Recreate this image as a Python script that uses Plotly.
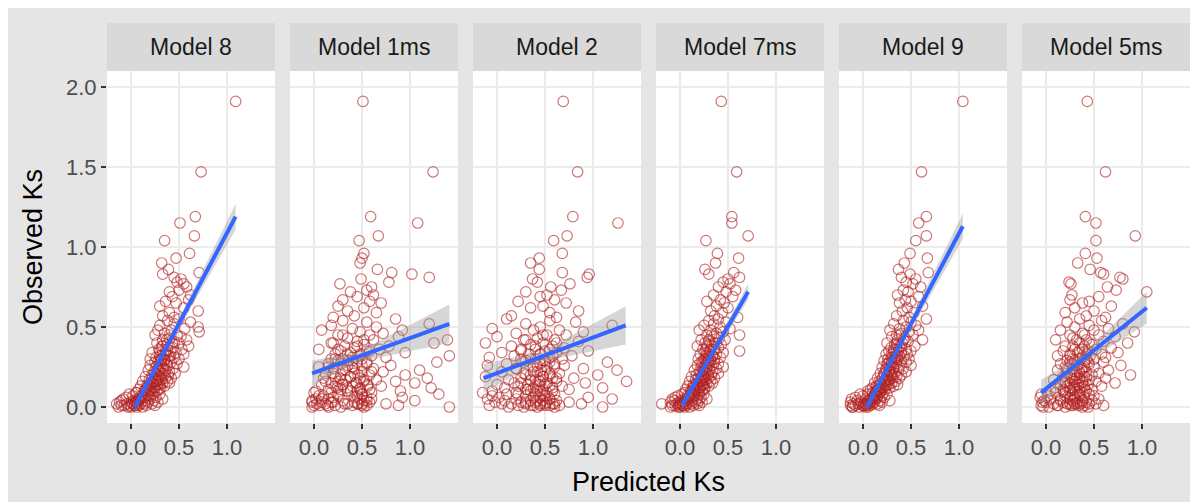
import plotly.graph_objects as go

# the page body keeps an 8 px margin, so the figure is 8 px smaller than the window
OFF = 8
W, H = 1198 - OFF, 502 - OFF

models = ["Model 8", "Model 1ms", "Model 2", "Model 7ms", "Model 9", "Model 5ms"]

observed = [
    1.91, 1.47, 1.19, 1.15, 1.07, 1.04, 0.96, 0.93, 0.90, 0.86,
    0.84, 0.83, 0.81, 0.80, 0.78, 0.77, 0.75, 0.73, 0.72, 0.70,
    0.69, 0.67, 0.66, 0.65, 0.63, 0.62, 0.60, 0.59, 0.57, 0.56,
    0.55, 0.54, 0.53, 0.52, 0.51, 0.50, 0.49, 0.48, 0.48, 0.47,
    0.46, 0.45, 0.45, 0.44, 0.43, 0.42, 0.42, 0.41, 0.40, 0.40,
    0.39, 0.38, 0.38, 0.37, 0.36, 0.36, 0.35, 0.35, 0.34, 0.34,
    0.33, 0.33, 0.32, 0.32, 0.31, 0.31, 0.30, 0.30, 0.30, 0.29,
    0.29, 0.28, 0.28, 0.27, 0.27, 0.26, 0.26, 0.25, 0.25, 0.24,
    0.24, 0.23, 0.23, 0.22, 0.22, 0.21, 0.21, 0.20, 0.20, 0.20,
    0.19, 0.19, 0.18, 0.18, 0.18, 0.17, 0.17, 0.16, 0.16, 0.16,
    0.15, 0.15, 0.15, 0.14, 0.14, 0.14, 0.13, 0.13, 0.13, 0.12,
    0.12, 0.12, 0.11, 0.11, 0.11, 0.10, 0.10, 0.10, 0.10, 0.09,
    0.09, 0.08, 0.08, 0.08, 0.07, 0.07, 0.07, 0.06, 0.06, 0.06,
    0.05, 0.05, 0.05, 0.05, 0.04, 0.04, 0.04, 0.04, 0.03, 0.03,
    0.03, 0.03, 0.03, 0.02, 0.02, 0.02, 0.02, 0.02, 0.02, 0.01,
    0.01, 0.01, 0.01, 0.01, 0.01, 0.00, 0.00, 0.00, 0.00, 0.00,
    0.45, 0.42, 0.40, 0.38, 0.36, 0.35, 0.33, 0.32, 0.30, 0.29,
    0.28, 0.27, 0.26, 0.25, 0.24, 0.23, 0.22, 0.21, 0.20, 0.19,
    0.18, 0.17, 0.16, 0.15, 0.14, 0.13, 0.12, 0.11, 0.10, 0.09,
    0.08, 0.07, 0.06, 0.05, 0.04, 0.03, 0.02, 0.02, 0.01, 0.01,
]

pred_model_8 = [
    1.09, 0.73, 0.67, 0.51, 0.66, 0.35, 0.61, 0.47, 0.32, 0.39,
    0.71, 0.33, 0.45, 0.52, 0.48, 0.55, 0.58, 0.50, 0.40, 0.62,
    0.43, 0.60, 0.36, 0.47, 0.30, 0.55, 0.70, 0.40, 0.33, 0.45,
    0.50, 0.38, 0.62, 0.45, 0.30, 0.70, 0.56, 0.42, 0.28, 0.71,
    0.35, 0.48, 0.25, 0.52, 0.40, 0.33, 0.58, 0.45, 0.27, 0.50,
    0.38, 0.60, 0.32, 0.44, 0.29, 0.53, 0.36, 0.41, 0.22, 0.47,
    0.34, 0.55, 0.30, 0.39, 0.26, 0.45, 0.35, 0.20, 0.50, 0.31,
    0.35, 0.42, 0.25, 0.48, 0.30, 0.38, 0.20, 0.55, 0.33, 0.28,
    0.44, 0.36, 0.18, 0.40, 0.30, 0.25, 0.46, 0.34, 0.22, 0.39,
    0.29, 0.15, 0.36, 0.42, 0.26, 0.32, 0.19, 0.38, 0.27, 0.12,
    0.33, 0.23, 0.40, 0.30, 0.17, 0.28, 0.35, 0.21, 0.10, 0.31,
    0.25, 0.16, 0.29, 0.20, 0.08, 0.24, 0.14, 0.27, 0.18, 0.06,
    0.05, 0.22, -0.02, 0.30, 0.10, 0.18, 0.02, 0.26, 0.12, -0.05,
    0.20, 0.08, 0.33, -0.08, 0.15, 0.03, 0.24, -0.10, 0.06, 0.18,
    0.00, 0.28, -0.12, 0.10, -0.04, 0.14, 0.22, -0.15, 0.02, 0.08,
    -0.07, 0.16, 0.04, -0.10, 0.25, 0.00, -0.13, 0.06, -0.03, 0.12,
    0.40, 0.37, 0.43, 0.33, 0.38, 0.30, 0.36, 0.41, 0.32, 0.35,
    0.28, 0.37, 0.31, 0.26, 0.34, 0.29, 0.24, 0.32, 0.27, 0.30,
    0.22, 0.28, 0.25, 0.20, 0.27, 0.18, 0.23, 0.16, 0.21, 0.14,
    0.18, 0.12, 0.15, 0.10, 0.08, 0.05, 0.02, 0.07, -0.01, 0.04,
]

pred_model_1ms = [
    0.51, 1.24, 0.59, 1.08, 0.67, 0.47, 0.52, 0.50, 0.48, 0.66,
    0.81, 1.02, 1.20, 0.49, 0.78, 0.27, 0.60, 0.55, 0.38, 0.62,
    0.45, 0.30, 0.58, 0.70, 0.25, 0.52, 0.35, 0.65, 0.42, 0.20,
    0.85, 0.30, 0.55, 1.20, 0.18, 0.65, 0.40, 0.92, 0.08, 0.48,
    0.72, 0.25, 0.58, 0.88, 0.35, 1.39, 0.62, 0.45, 1.25, 0.20,
    0.52, 0.78, 0.32, 0.42, 0.05, 0.68, 0.28, 0.55, 0.38, 0.95,
    0.22, 0.48, 0.60, 1.41, 0.40, 0.75, 0.30, 0.50, 0.18, 0.36,
    0.25, 0.45, 1.28, 0.15, 0.55, 0.35, 0.80, 0.05, 0.40, 0.62,
    0.20, 1.10, 0.30, 0.50, 0.72, 0.12, 0.42, 0.28, 0.95, 0.58,
    0.22, 0.38, 1.18, 0.48, 0.10, 0.33, 0.65, 0.25, 0.52, 0.85,
    0.18, 0.44, 1.05, 0.30, 0.56, 0.08, 0.40, 0.70, 0.22, 0.48,
    1.22, 0.35, 0.15, 0.58, 0.28, 0.90, 0.45, 0.02, 0.38, 0.60,
    0.00, 0.25, 0.50, 1.30, 0.10, 0.45, 0.05, 0.55, 0.20, 0.92,
    0.02, 0.48, 0.15, 0.60, -0.02, 0.30, 0.52, 1.05, 0.08, 0.42,
    0.18, 0.58, -0.02, 0.35, 0.12, 0.50, 0.75, 0.03, 0.45, 0.22,
    0.55, 0.00, 0.40, 0.88, 0.06, 0.28, 0.52, -0.02, 0.15, 1.41,
    0.30, 0.52, 0.18, 0.45, 0.25, 0.58, 0.35, 0.48, 0.22, 0.40,
    0.55, 0.28, 0.50, 0.15, 0.42, 0.33, 0.60, 0.20, 0.46, 0.38,
    0.27, 0.52, 0.12, 0.44, 0.30, 0.56, 0.24, 0.48, 0.35, 0.18,
    0.50, 0.26, 0.42, 0.08, 0.55, 0.20, 0.46, 0.32, 0.50, 0.14,
]

pred_model_2 = [
    0.69, 0.84, 0.79, 1.26, 0.73, 0.59, 0.68, 0.44, 0.35, 0.44,
    0.68, 0.96, 0.94, 0.37, 0.42, 0.76, 0.56, 0.67, 0.30, 0.52,
    0.45, 0.60, 0.22, 0.72, 0.48, 0.35, 0.85, 0.55, 0.15, 0.62,
    0.10, 0.55, 0.82, 0.30, 1.20, 0.45, -0.05, 0.65, 0.38, 0.90,
    0.20, 0.52, 0.72, 0.00, 0.42, 0.60, 0.28, 0.85, 0.48, -0.12,
    0.35, 0.58, 0.15, 0.70, 0.40, 0.25, 0.95, 0.50, 0.05, 0.62,
    0.33, 0.45, 0.78, 0.18, 0.55, -0.08, 0.40, 0.68, 0.25, 0.48,
    0.30, 0.55, 1.15, 0.10, 0.45, 0.70, -0.10, 0.38, 0.60, 0.90,
    0.20, 0.50, 1.25, 0.05, 0.42, 0.65, 0.28, 1.05, 0.35, 0.55,
    -0.12, 0.48, 0.80, 0.25, 0.58, 0.40, 0.12, 1.35, 0.45, 0.62,
    0.18, 0.52, 0.92, 0.32, 0.00, 0.44, 0.68, 0.22, 0.55, 0.38,
    1.10, 0.08, 0.48, 0.30, 0.75, 0.42, -0.05, 0.58, 0.35, 0.20,
    -0.15, 0.10, 0.40, 0.60, -0.05, 0.30, 0.50, 0.95, 0.02, 0.45,
    0.20, 0.55, 1.20, -0.10, 0.35, 0.62, 0.08, 0.48, 0.25, 0.75,
    0.52, -0.02, 0.40, 0.15, 0.58, 0.30, 0.88, 0.05, 0.45, 0.65,
    0.22, 0.50, -0.08, 0.38, 0.55, 1.10, 0.12, 0.42, 0.60, 0.28,
    0.48, 0.30, 0.62, 0.40, 0.55, 0.25, 0.45, 0.58, 0.35, 0.50,
    0.28, 0.60, 0.42, 0.52, 0.20, 0.46, 0.38, 0.55, 0.30, 0.48,
    0.62, 0.35, 0.44, 0.25, 0.50, 0.40, 0.58, 0.32, 0.45, 0.52,
    0.22, 0.48, 0.38, 0.55, 0.42, 0.30, 0.50, 0.60, 0.45, 0.35,
]

pred_model_7ms = [
    0.43, 0.59, 0.54, 0.54, 0.71, 0.27, 0.39, 0.61, 0.37, 0.26,
    0.56, 0.30, 0.62, 0.50, 0.45, 0.52, 0.40, 0.58, 0.48, 0.35,
    0.55, 0.42, 0.28, 0.46, 0.38, 0.50, 0.32, 0.44, 0.36, 0.60,
    0.40, 0.30, 0.48, 0.35, 0.25, 0.42, 0.52, 0.32, 0.20, 0.45,
    0.38, 0.28, 0.62, 0.35, 0.41, 0.22, 0.47, 0.30, 0.38, 0.26,
    0.43, 0.33, 0.18, 0.40, 0.36, 0.24, 0.62, 0.31, 0.45, 0.28,
    0.21, 0.38, 0.34, 0.27, 0.42, 0.30, 0.19, 0.36, 0.25, 0.32,
    0.30, 0.36, 0.22, 0.40, 0.27, 0.33, 0.18, 0.45, 0.28, 0.24,
    0.38, 0.31, 0.15, 0.34, 0.26, 0.21, 0.40, 0.29, 0.17, 0.33,
    0.25, 0.12, 0.30, 0.36, 0.22, 0.27, 0.16, 0.32, 0.23, 0.10,
    0.28, 0.19, 0.34, 0.25, 0.14, 0.24, 0.30, 0.18, 0.08, 0.26,
    0.21, 0.13, 0.25, 0.17, 0.06, 0.20, 0.11, 0.23, 0.15, 0.05,
    0.12, 0.20, 0.02, 0.25, 0.08, 0.15, -0.02, 0.22, 0.10, -0.05,
    0.18, 0.05, 0.28, -0.08, 0.13, 0.01, 0.20, -0.06, 0.04, 0.16,
    -0.01, 0.23, -0.10, 0.08, -0.03, 0.12, 0.18, -0.19, 0.00, 0.06,
    -0.05, 0.14, 0.03, -0.08, 0.20, -0.02, -0.10, 0.05, 0.00, 0.10,
    0.33, 0.30, 0.36, 0.28, 0.32, 0.26, 0.30, 0.34, 0.27, 0.29,
    0.24, 0.31, 0.26, 0.22, 0.28, 0.25, 0.20, 0.27, 0.23, 0.25,
    0.19, 0.24, 0.21, 0.17, 0.23, 0.15, 0.20, 0.14, 0.18, 0.12,
    0.15, 0.10, 0.13, 0.08, 0.07, 0.04, 0.02, 0.06, -0.01, 0.03,
]

pred_model_9 = [
    1.04, 0.61, 0.66, 0.58, 0.66, 0.55, 0.49, 0.67, 0.43, 0.37,
    0.68, 0.49, 0.40, 0.55, 0.45, 0.52, 0.60, 0.42, 0.47, 0.36,
    0.58, 0.44, 0.50, 0.38, 0.62, 0.46, 0.41, 0.53, 0.35, 0.48,
    0.66, 0.42, 0.50, 0.32, 0.55, 0.45, 0.38, 0.58, 0.28, 0.48,
    0.40, 0.35, 0.52, 0.30, 0.44, 0.62, 0.36, 0.47, 0.25, 0.41,
    0.33, 0.54, 0.38, 0.29, 0.45, 0.35, 0.50, 0.27, 0.40, 0.32,
    0.46, 0.24, 0.38, 0.43, 0.30, 0.35, 0.26, 0.48, 0.33, 0.22,
    0.40, 0.30, 0.45, 0.25, 0.35, 0.50, 0.28, 0.38, 0.20, 0.42,
    0.32, 0.24, 0.37, 0.45, 0.27, 0.33, 0.18, 0.40, 0.29, 0.22,
    0.35, 0.26, 0.15, 0.31, 0.38, 0.23, 0.28, 0.34, 0.17, 0.25,
    0.30, 0.12, 0.22, 0.36, 0.19, 0.27, 0.14, 0.24, 0.32, 0.10,
    0.20, 0.28, 0.16, 0.08, 0.23, 0.13, 0.19, 0.05, 0.15, 0.10,
    0.18, 0.05, 0.25, -0.03, 0.12, 0.20, 0.00, 0.15, -0.08, 0.22,
    0.08, -0.12, 0.14, 0.03, 0.28, -0.06, 0.10, 0.18, -0.13, 0.05,
    0.12, -0.02, 0.20, 0.07, -0.10, 0.15, -0.05, 0.02, 0.10, -0.13,
    0.04, 0.17, -0.08, 0.00, 0.08, -0.11, -0.04, 0.05, -0.11, 0.02,
    0.38, 0.42, 0.35, 0.40, 0.32, 0.37, 0.30, 0.34, 0.36, 0.28,
    0.33, 0.26, 0.30, 0.32, 0.24, 0.28, 0.27, 0.22, 0.30, 0.25,
    0.20, 0.26, 0.23, 0.18, 0.24, 0.16, 0.21, 0.18, 0.14, 0.17,
    0.12, 0.15, 0.10, 0.12, 0.06, 0.08, 0.03, 0.05, 0.00, 0.02,
]

pred_model_5ms = [
    0.43, 0.62, 0.41, 0.52, 0.93, 0.52, 0.41, 0.53, 0.33, 0.46,
    0.57, 0.60, 0.77, 0.80, 0.24, 0.26, 0.64, 0.73, 1.05, 0.27,
    0.55, 0.25, 0.45, 0.38, 0.68, 0.30, 0.50, 0.20, 0.42, 0.62,
    0.35, 0.58, 0.22, 0.80, 0.45, 0.30, 0.65, 0.15, 0.50, 0.92,
    0.38, 0.25, 0.55, 0.72, 0.28, 0.42, 0.10, 0.60, 0.35, 0.85,
    0.48, 0.20, 0.40, 0.68, 0.30, 0.52, 0.18, 0.44, 0.75, 0.33,
    0.58, 0.25, 0.46, 0.12, 0.38, 0.62, 0.28, 0.50, 0.42, 0.22,
    0.40, 0.25, 0.60, 0.15, 0.45, 0.32, 0.78, 0.20, 0.50, 0.38,
    0.28, 0.65, 0.12, 0.42, 0.35, 0.55, 0.22, 0.88, 0.30, 0.48,
    0.18, 0.40, 0.62, 0.26, 0.35, 0.08, 0.45, 0.30, 0.52, 0.20,
    0.72, 0.38, 0.25, 0.15, 0.44, 0.32, 0.58, 0.22, 0.40, 0.28,
    0.10, 0.36, 0.48, 0.18, 0.30, 0.42, 0.25, 0.05, 0.35, 0.20,
    0.10, 0.35, -0.05, 0.45, 0.20, 0.50, 0.02, 0.30, 0.40, -0.06,
    0.15, 0.55, 0.25, 0.05, 0.38, -0.02, 0.48, 0.28, 0.00, 0.42,
    0.18, 0.33, -0.04, 0.45, 0.22, 0.36, 0.08, 0.52, 0.30, -0.05,
    0.40, 0.26, 0.12, 0.60, 0.34, -0.03, 0.44, 0.20, 0.03, 0.38,
    0.40, 0.32, 0.45, 0.28, 0.38, 0.35, 0.42, 0.25, 0.36, 0.30,
    0.44, 0.27, 0.33, 0.40, 0.22, 0.37, 0.30, 0.35, 0.26, 0.42,
    0.32, 0.28, 0.38, 0.20, 0.34, 0.30, 0.25, 0.40, 0.18, 0.33,
    0.28, 0.36, 0.22, 0.30, 0.15, 0.38, 0.25, 0.32, 0.12, 0.28,
]

predicted = [pred_model_8, pred_model_1ms, pred_model_2,
             pred_model_7ms, pred_model_9, pred_model_5ms]

# linear fit (geom_smooth, method = "lm")
fit_x_start = [0.04, -0.02, -0.14, 0.02, 0.04, -0.05]
fit_x_end = [1.09, 1.41, 1.34, 0.71, 1.04, 1.05]
fit_y_start = [0.00, 0.21, 0.18, 0.01, 0.00, 0.09]
fit_y_end = [1.19, 0.52, 0.51, 0.72, 1.13, 0.62]
ci_x_mid = [0.33, 0.45, 0.45, 0.28, 0.33, 0.38]
ci_half_start = [0.03, 0.08, 0.09, 0.03, 0.03, 0.08]
ci_half_mid = [0.02, 0.03, 0.03, 0.02, 0.02, 0.03]
ci_half_end = [0.08, 0.12, 0.12, 0.05, 0.08, 0.10]

x_tick_vals = [0.0, 0.5, 1.0]
x_tick_text = ["0.0", "0.5", "1.0"]
y_tick_vals = [0.0, 0.5, 1.0, 1.5, 2.0]
y_tick_text = ["0.0", "0.5", "1.0", "1.5", "2.0"]

x_range = [-0.25, 1.5]
y_range = [-0.1, 2.1]

# ---------------- layout geometry (window pixels) ----------------
panel_left = [107, 290, 473, 656, 839, 1022]
panel_w = 168
panel_top, panel_bottom = 71, 423
strip_top = 23

def px_x(p):
    return (p - OFF) / W

def px_y(p):
    return 1 - (p - OFF) / H

FONT = "Liberation Sans, Arial, Helvetica, sans-serif"
point_color = "rgba(178,34,34,0.62)"

fig = go.Figure()
layout = {}
shapes = []
annotations = []

for i, name in enumerate(models):
    k = "" if i == 0 else str(i + 1)
    xa, ya = "x" + k, "y" + k
    xs = predicted[i]
    assert len(xs) == len(observed)
    fig.add_trace(go.Scatter(
        x=xs, y=observed, mode="markers", xaxis=xa, yaxis=ya,
        marker=dict(symbol="circle-open", size=10.5, color=point_color,
                    line=dict(width=1.2, color=point_color)),
        showlegend=False, hoverinfo="skip"))

    x0, x1, xm = fit_x_start[i], fit_x_end[i], ci_x_mid[i]
    y0, y1 = fit_y_start[i], fit_y_end[i]
    ym = y0 + (y1 - y0) * (xm - x0) / (x1 - x0)
    rib_x = [x0, xm, x1, x1, xm, x0]
    rib_y = [y0 + ci_half_start[i], ym + ci_half_mid[i], y1 + ci_half_end[i],
             y1 - ci_half_end[i], ym - ci_half_mid[i], y0 - ci_half_start[i]]
    fig.add_trace(go.Scatter(
        x=rib_x, y=rib_y, mode="lines", fill="toself", xaxis=xa, yaxis=ya,
        fillcolor="rgba(153,153,153,0.4)", line=dict(width=0),
        showlegend=False, hoverinfo="skip"))
    fig.add_trace(go.Scatter(
        x=[x0, x1], y=[y0, y1], mode="lines", xaxis=xa, yaxis=ya,
        line=dict(color="#3366FF", width=4),
        showlegend=False, hoverinfo="skip"))

    left = panel_left[i]
    right = left + panel_w
    layout["xaxis" + k] = dict(
        domain=[px_x(left), px_x(right)], range=x_range, anchor=ya,
        tickvals=x_tick_vals, ticktext=x_tick_text,
        ticks="outside", ticklen=5, tickwidth=1.5, tickcolor="#333333",
        showgrid=True, gridcolor="#EBEBEB", gridwidth=1.6,
        zeroline=False, showline=False,
        tickfont=dict(family=FONT, size=22, color="#4D4D4D"))
    layout["yaxis" + k] = dict(
        domain=[px_y(panel_bottom), px_y(panel_top)], range=y_range,
        anchor=xa, tickvals=y_tick_vals, ticktext=y_tick_text,
        ticks="outside" if i == 0 else "", ticklen=5, tickwidth=1.5,
        tickcolor="#333333", showticklabels=(i == 0),
        showgrid=True, gridcolor="#EBEBEB", gridwidth=1.6,
        zeroline=False, showline=False,
        tickfont=dict(family=FONT, size=22, color="#4D4D4D"))

    shapes.append(dict(type="rect", xref="paper", yref="paper",
                       x0=px_x(left), x1=px_x(right),
                       y0=px_y(panel_top), y1=px_y(strip_top),
                       fillcolor="#D9D9D9", line=dict(width=0), layer="below"))
    annotations.append(dict(text=name, xref="paper", yref="paper",
                            x=px_x((left + right) / 2),
                            y=px_y((strip_top + panel_top) / 2),
                            xanchor="center", yanchor="middle", showarrow=False,
                            font=dict(family=FONT, size=23, color="#1A1A1A")))

annotations.append(dict(text="Observed Ks", xref="paper", yref="paper",
                        x=px_x(33), y=px_y((panel_top + panel_bottom) / 2),
                        textangle=-90, showarrow=False, xanchor="center",
                        yanchor="middle",
                        font=dict(family=FONT, size=27, color="#000000")))
annotations.append(dict(text="Predicted Ks", xref="paper", yref="paper",
                        x=px_x((panel_left[0] + panel_left[-1] + panel_w) / 2),
                        y=px_y(482), showarrow=False, xanchor="center",
                        yanchor="middle",
                        font=dict(family=FONT, size=27, color="#000000")))

fig.update_layout(
    width=W, height=H,
    margin=dict(l=0, r=0, t=0, b=0),
    paper_bgcolor="#E5E5E5", plot_bgcolor="white",
    shapes=shapes, annotations=annotations,
    font=dict(family=FONT),
    hovermode=False,
    **layout)

fig.write_html("out.html")
